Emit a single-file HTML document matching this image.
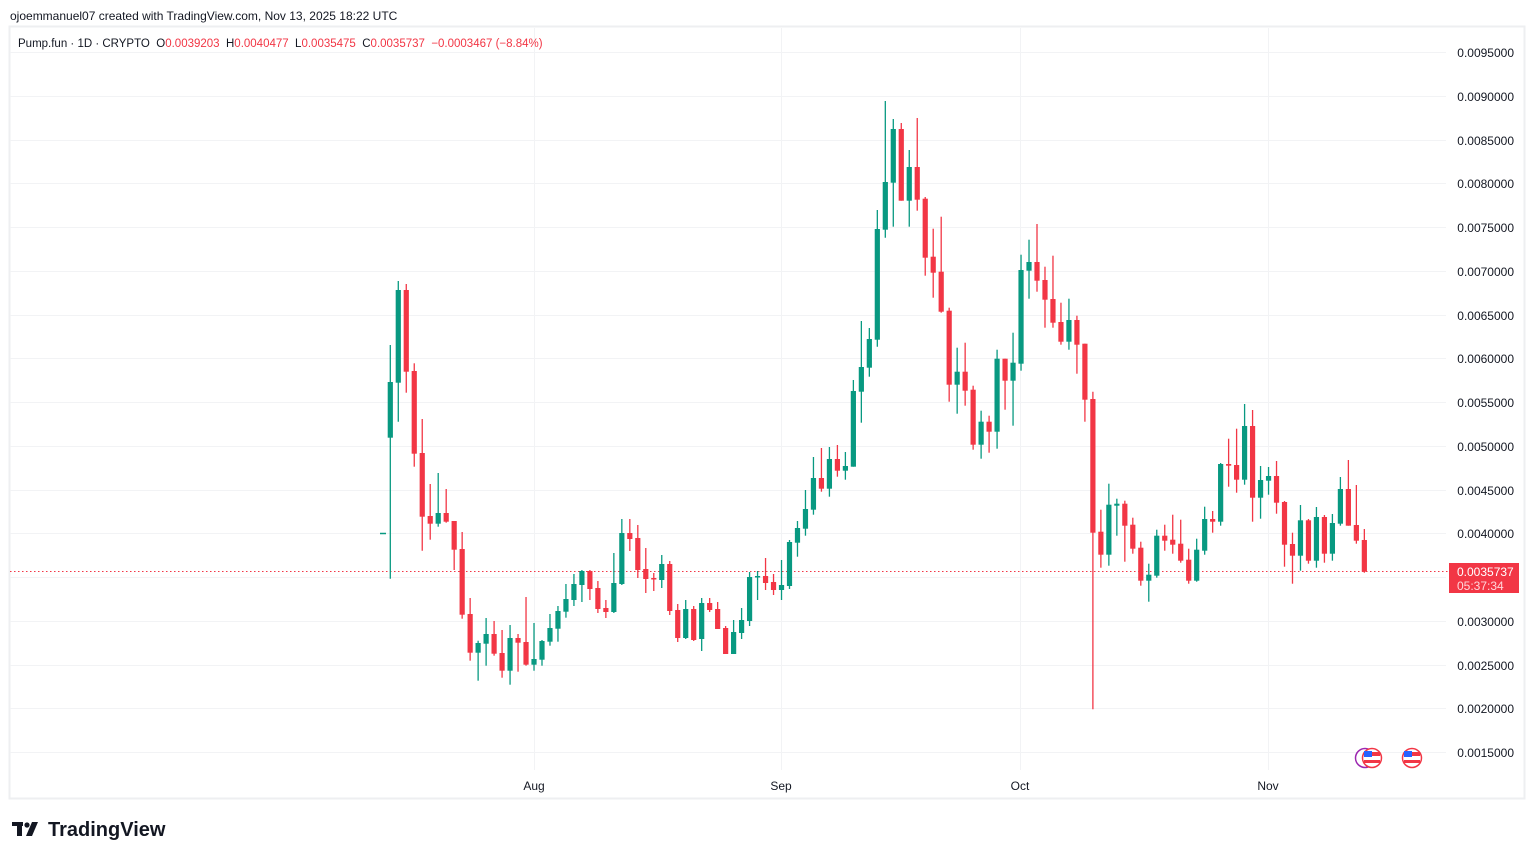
<!DOCTYPE html>
<html><head><meta charset="utf-8"><style>
html,body{margin:0;padding:0;background:#fff;width:1534px;height:859px;overflow:hidden;font-family:"Liberation Sans","DejaVu Sans",sans-serif}
</style></head><body>
<svg id="s" width="1534" height="859" viewBox="0 0 1534 859" xmlns="http://www.w3.org/2000/svg" font-family="Liberation Sans, DejaVu Sans, sans-serif">
<rect x="0" y="0" width="1534" height="859" fill="#fff"/>
<text x="10" y="20" font-size="12" fill="#131722">ojoemmanuel07 created with TradingView.com, Nov 13, 2025 18:22 UTC</text>
<rect x="9.5" y="26.5" width="1515" height="772" fill="none" stroke="#eeeff1" stroke-width="2"/>
<g stroke="#f2f3f5" stroke-width="1">
<line x1="10" x2="1446" y1="52.5" y2="52.5"/><line x1="10" x2="1446" y1="96.5" y2="96.5"/><line x1="10" x2="1446" y1="140.5" y2="140.5"/><line x1="10" x2="1446" y1="183.5" y2="183.5"/><line x1="10" x2="1446" y1="227.5" y2="227.5"/><line x1="10" x2="1446" y1="271.5" y2="271.5"/><line x1="10" x2="1446" y1="315.5" y2="315.5"/><line x1="10" x2="1446" y1="358.5" y2="358.5"/><line x1="10" x2="1446" y1="402.5" y2="402.5"/><line x1="10" x2="1446" y1="446.5" y2="446.5"/><line x1="10" x2="1446" y1="490.5" y2="490.5"/><line x1="10" x2="1446" y1="533.5" y2="533.5"/><line x1="10" x2="1446" y1="577.5" y2="577.5"/><line x1="10" x2="1446" y1="621.5" y2="621.5"/><line x1="10" x2="1446" y1="665.5" y2="665.5"/><line x1="10" x2="1446" y1="708.5" y2="708.5"/><line x1="10" x2="1446" y1="752.5" y2="752.5"/>
<line x1="534.5" x2="534.5" y1="28" y2="770"/><line x1="781.5" x2="781.5" y1="28" y2="770"/><line x1="1020.5" x2="1020.5" y1="28" y2="770"/><line x1="1268.5" x2="1268.5" y1="28" y2="770"/>
</g>
<g font-size="12" fill="#131722" text-anchor="end">
<text x="1514" y="57">0.0095000</text><text x="1514" y="101">0.0090000</text><text x="1514" y="145">0.0085000</text><text x="1514" y="188">0.0080000</text><text x="1514" y="232">0.0075000</text><text x="1514" y="276">0.0070000</text><text x="1514" y="320">0.0065000</text><text x="1514" y="363">0.0060000</text><text x="1514" y="407">0.0055000</text><text x="1514" y="451">0.0050000</text><text x="1514" y="495">0.0045000</text><text x="1514" y="538">0.0040000</text><text x="1514" y="626">0.0030000</text><text x="1514" y="670">0.0025000</text><text x="1514" y="713">0.0020000</text><text x="1514" y="757">0.0015000</text>
</g>
<g font-size="12" fill="#131722" text-anchor="middle">
<text x="534" y="790">Aug</text><text x="781" y="790">Sep</text><text x="1020" y="790">Oct</text><text x="1268" y="790">Nov</text>
</g>
<text x="18" y="47" font-size="11.5" fill="#131722" xml:space="preserve" style="white-space:pre">Pump.fun · 1D · CRYPTO  O<tspan fill="#f23645">0.0039203</tspan>  H<tspan fill="#f23645">0.0040477</tspan>  L<tspan fill="#f23645">0.0035475</tspan>  C<tspan fill="#f23645">0.0035737</tspan>  <tspan fill="#f23645">−0.0003467 (−8.84%)</tspan></text>
<line x1="10" x2="1448" y1="571.5" y2="571.5" stroke="#f23645" stroke-width="1" stroke-dasharray="1.5,2.5"/>
<line x1="380" x2="386" y1="533.5" y2="533.5" stroke="#089981" stroke-width="1.5"/>
<g id="c"></g>
<rect x="1449" y="563" width="70" height="30" fill="#f23645"/>
<text x="1457" y="576" font-size="12" fill="#fff">0.0035737</text>
<text x="1457" y="590" font-size="12" fill="#ffd6da">05:37:34</text>
<circle cx="1365" cy="758" r="9.5" fill="#fff" stroke="#9c27b0" stroke-width="1.5"/>
<circle cx="1372" cy="758" r="9.5" fill="#fff" stroke="#f23645" stroke-width="1.5"/>
<rect x="1364" y="752" width="16" height="4" fill="#f23645"/><rect x="1364" y="760" width="16" height="3" fill="#f23645"/><rect x="1364" y="751" width="8" height="6" fill="#2962ff"/>
<circle cx="1412" cy="758" r="9.5" fill="#fff" stroke="#f23645" stroke-width="1.5"/>
<rect x="1404" y="752" width="16" height="4" fill="#f23645"/><rect x="1404" y="760" width="16" height="3" fill="#f23645"/><rect x="1404" y="751" width="8" height="6" fill="#2962ff"/>
<g fill="#131722"><rect x="12" y="822" width="11" height="4"/><rect x="17" y="822" width="5" height="14"/><circle cx="27" cy="825" r="2.6"/><polygon points="32,822 38,822 32,836 26,836"/></g>
<text x="48" y="836" font-size="20" font-weight="bold" fill="#131722">TradingView</text>
</svg>
<script>
var d=[[437.7,382,345,578.7],[382.7,290,281,421.7],[290,371.7,284,392.7],[371,453.7,363.3,466.7],[453,516.7,419,550.7],[516,523.7,484,539.7],[523.7,513,473,526.7],[513,521.7,489,522.7],[521,549.7,521,570],[549,614.7,532,618.7],[614,652.7,598,660.7],[652.7,643,640.7,680.7],[643.7,634,618,665.7],[634,653.7,621,655.7],[653,670.7,630,677.7],[670.7,638,625,684.7],[638,642.7,634,671.7],[642,664.7,597,665.7],[664.7,659,623,670.7],[659.7,641,640,665.7],[641.7,628,614,645.7],[628.7,611,606,641.7],[611.7,599,584,617.7],[600,584,574,606],[585,571,570,602],[571,589,570,600],[588,609,581,613],[608,612,600,618],[612,583,553,613],[584,533,519,585],[533,539,519,551],[538,570,525,578],[569,579,548,593],[578,579,573,591],[580,564,555,588],[564,611,561,615],[610,638,604,642],[638,609,600,639],[609,640,606,641],[639,603,598,651],[603,610,598,612],[609,629,602,629],[628,654,626,654],[654,632,620,654],[633,620,608,639],[621,577,572,626],[577,576,571,600],[576,583,558,590],[582,590,574,595],[590,585,560,600],[586,542,540,589],[542.7,528,521,556.7],[528.7,509,490,535.7],[509.7,478,457,514.7],[478,488.7,448,491.7],[488.7,459,447,496.7],[459,470.7,445,476.7],[470.7,466,452,479.7],[466.7,391,380,466.7],[391.7,367,321,422.7],[367.7,339,328,376.7],[339.7,229,210,346.7],[229.7,182,101,237.7],[182.7,129,119,226.7],[129,200.7,123,200.7],[200.7,167,150,226.7],[167,199.7,118,210.7],[198.7,257.7,197,275.7],[256.7,272.7,228.7,297.7],[271.7,311.7,216.7,312.7],[310.7,384.7,307.7,401.7],[384.7,371.7,347.7,413.7],[371.7,390.7,342.7,405.7],[389.7,444.7,385.7,449.7],[444.7,421.7,410.7,458.7],[421.7,431.7,415.7,452.7],[431.7,358.7,349.7,448.7],[358.7,380.7,358.7,409.7],[380.7,362.7,332.7,425.7],[363.7,270,254.7,370.7],[270.7,262,239.7,298.7],[262,280.7,224,291.7],[280,299.7,266.7,327.7],[299,322.7,255.7,327.7],[322,341.7,302.7,344.7],[341.7,320,298.7,349.7],[320,344.7,315.7,373.7],[343.7,399.7,343.7,421.7],[399,532.7,391.7,709.3],[531.7,554.7,509.7,567.7],[554.7,504.7,483.7,565.7],[505.7,503.7,498.7,535.7],[503.7,525.7,500.7,561.7],[524.7,548.7,517.7,553.7],[547.7,580.7,541.7,585.7],[580.7,574.7,563.7,601.7],[575.7,535.7,529.7,577.7],[535.7,540.7,524.7,550.7],[539.7,544.7,514.7,553.7],[543.7,560.7,519.7,562.7],[559.7,580.7,548.7,583.7],[580.7,549.7,538.7,581.7],[550.7,519,506.7,554.7],[519,521.7,511,532.7],[521.7,464,463,525.7],[464,465.7,438.7,486.7],[465,479.7,428.7,492.7],[479.7,426,404,484.7],[426,497.7,410,521.7],[497.7,480,466,518.7],[480.7,476,467,494.7],[476,502.7,461,513.7],[502,544.7,501,566.7],[544,555.7,532.7,583.7],[555.7,520.3,505,570.7],[520.3,560.7,519,563.7],[560.7,517,507,567.7],[517,553.7,515,562.7],[553.7,523,514,560.7],[523.7,489,477,525.7],[489,525.7,460,525.7],[525,540.7,485,543.7],[540,571.7,529,572.7]];
var g=document.getElementById('c'),h='';
for(var i=0;i<d.length;i++){var x=390.3+i*7.984,o=d[i][0],c=d[i][1],up=c<o,col=up?'#089981':'#f23645';var t=Math.min(o,c),b=Math.max(o,c);if(b-t<1.5){b=t+1.5;}
h+='<line x1="'+x+'" x2="'+x+'" y1="'+d[i][2]+'" y2="'+d[i][3]+'" stroke="'+col+'" stroke-width="1.3"/>';
h+='<rect x="'+(x-2.6)+'" y="'+t+'" width="5.2" height="'+(b-t)+'" fill="'+col+'"/>';}
g.innerHTML=h;
</script>
</body></html>
